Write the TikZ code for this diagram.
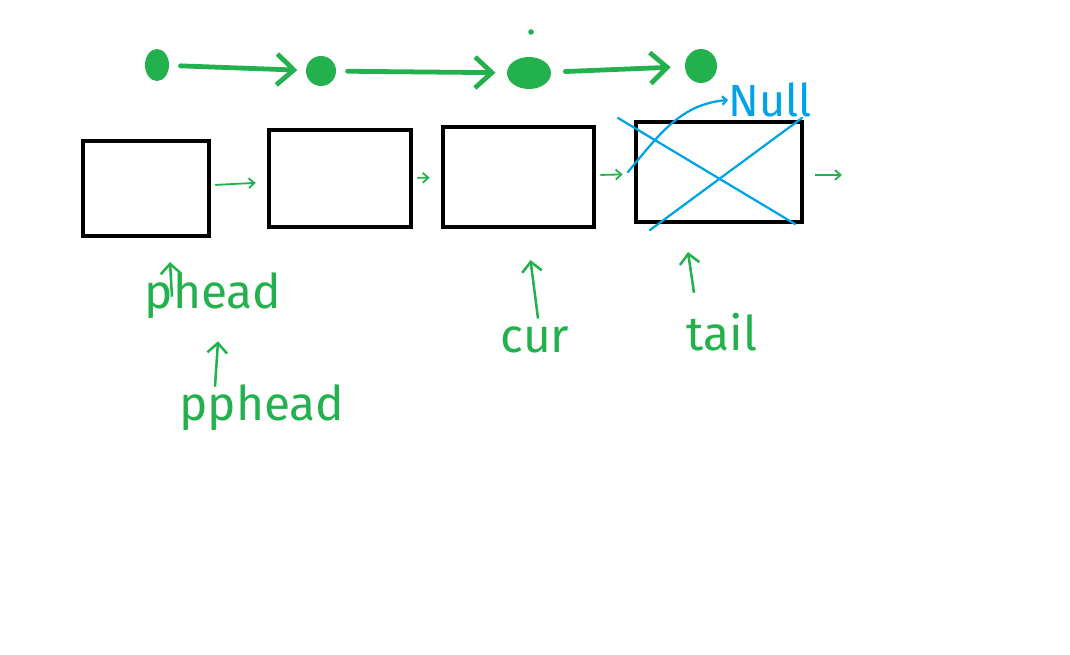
\documentclass[tikz,border=0pt]{standalone}
\usepackage{fontspec}
\setmainfont{Fira Sans}
\usetikzlibrary{arrows.meta, positioning, shapes.geometric}
\definecolor{inkgreen}{HTML}{22B14C}
\definecolor{inkblue}{HTML}{00A2E8}

\begin{document}
\begin{tikzpicture}[x=0.025cm, y=-0.025cm,
      box/.style={draw=black, line width=2.9pt, inner sep=0pt},
      dot/.style={fill=inkgreen, ellipse, inner sep=0pt},
      hop/.style={draw=inkgreen, line width=3.4pt, line cap=round, -{Straight Barb[length=12pt, width=22pt]}},
      nxt/.style={draw=inkgreen, line width=1.3pt, -{Straight Barb[length=4pt, width=7pt]}},
      ptr/.style={draw=inkgreen, line width=1.8pt, -{Straight Barb[length=7pt, width=14pt]}},
      lbl/.style={text=inkgreen, font=\fontsize{34}{36}\selectfont, inner sep=0pt},
      cross/.style={draw=inkblue, line width=1.6pt, line cap=round}]
    \useasboundingbox (0,0) rectangle (1070,655);
    % list nodes
    \foreach \i/\x/\y/\w/\h in {1/146/188.5/126/95, 2/340/178.5/142/97, 3/518.5/177/151/100, 4/719/172/166/100} {
      \node[box, minimum width=\w*0.025cm, minimum height=\h*0.025cm] (b\i) at (\x,\y) {};
    }
    \foreach \a/\b in {1/2, 2/3, 3/4}
      \draw[nxt, shorten <=3pt, shorten >=8pt] (b\a) -- (b\b);
    \coordinate (end) at (842,175);
    \draw[nxt] ([xshift=8pt]b4.east |- end) -- (end);
    % traversal dots
    \node[dot, minimum width=0.6cm, minimum height=0.8cm] (d1) at (157,65) {};
    \node[dot, minimum width=0.75cm, minimum height=0.75cm] (d2) at (321,71) {};
    \node[dot, minimum width=1.1cm, minimum height=0.8cm] (d3) at (529,73) {};
    \node[dot, minimum width=0.8cm, minimum height=0.85cm] (d4) at (701,66) {};
    \node[dot, minimum size=4pt] (tick) at (531,32) {};
    \draw[hop, shorten <=8pt, shorten >=6pt] (d1) -- (d2);
    \draw[hop, shorten <=8pt, shorten >=8pt] (d2) -- (d3);
    \draw[hop, shorten <=10pt, shorten >=10pt] (d3) -- (d4);
    % pointers
    \node[lbl] (phead) at (213,296) {phead};
    \node[lbl] (pphead) at (262,408) {pphead};
    \node[lbl] (cur) at (535,340) {cur};
    \node[lbl] (tail) at (722,332) {tail};
    \draw[ptr] ([shift={(-41,24)}]phead.north) -- ([shift={(24,24)}]b1.south);
    \draw[ptr] ([shift={(-47,2)}]pphead.north) -- ([shift={(5,22)}]phead.south);
    \draw[ptr] ([shift={(3,-8)}]cur.north) -- ([shift={(12,31)}]b3.south);
    \draw[ptr] ([shift={(-28,-20)}]tail.north) -- ([shift={(-31,28)}]b4.south);
    % removed tail
    \node[text=inkblue, font=\fontsize{32}{34}\selectfont, inner sep=0pt] (null) at (770,100) {Null};
    \draw[cross] ([shift={(-16,-2)}]b4.north west) -- ([shift={(-9,0)}]b4.south east);
    \draw[cross] ([shift={(16,6)}]b4.south west) -- ([shift={(-2,-2)}]b4.north east);
    \draw[cross, -{Straight Barb[length=3pt, width=6pt]}] ([shift={(-6,0)}]b4.west) to[out=50, in=185] (null.west);
  \end{tikzpicture}
\end{document}
